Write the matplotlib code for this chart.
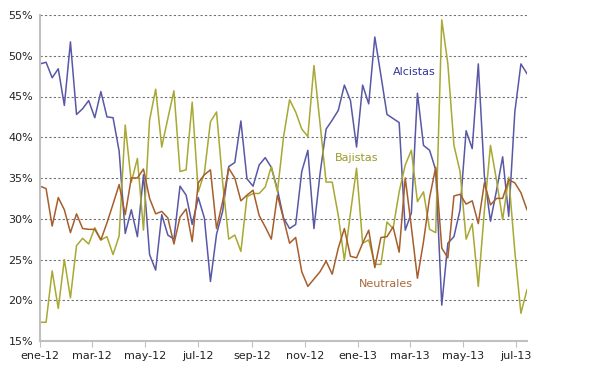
import numpy as np
import matplotlib
matplotlib.use("Agg")
import matplotlib.pyplot as plt

# weekly sentiment readings (%), Jan 2012 - Jul 2013
fechas = np.datetime64("2012-01-05") + np.arange(81) * np.timedelta64(7, "D")

alcistas = [49.0, 49.2, 47.3, 48.4, 43.9, 51.7, 42.8, 43.5, 44.5, 42.4,
            45.6, 42.5, 42.4, 38.3, 28.2, 31.1, 27.8, 35.4, 25.6, 23.7,
            30.5, 28.0, 27.5, 34.0, 32.9, 29.3, 32.6, 30.1, 22.3, 28.1,
            30.9, 36.4, 36.9, 42.0, 34.9, 34.0, 36.6, 37.5, 36.3, 33.6,
            30.1, 28.8, 29.3, 35.8, 38.4, 28.8, 35.5, 41.0, 42.1, 43.3,
            46.4, 44.5, 38.8, 46.4, 44.1, 52.3, 47.6, 42.8, 42.3, 41.8,
            28.6, 30.7, 45.4, 39.0, 38.4, 36.0, 19.4, 27.0, 27.8, 31.1,
            40.8, 38.6, 49.0, 35.2, 29.7, 33.5, 37.6, 30.3, 43.1, 49.0,
            47.8]

bajistas = [17.3, 17.3, 23.6, 19.0, 25.0, 20.3, 26.7, 27.6, 26.9, 28.9,
            27.4, 27.8, 25.6, 27.9, 41.5, 34.5, 37.4, 28.6, 42.1, 45.9,
            38.8, 42.3, 45.7, 35.8, 36.0, 44.3, 33.3, 35.6, 41.9, 43.1,
            34.5, 27.5, 28.0, 26.0, 32.7, 33.1, 33.1, 33.9, 36.4, 33.3,
            40.0, 44.6, 43.1, 41.0, 40.1, 48.8, 41.7, 34.5, 34.5, 30.4,
            24.9, 30.7, 36.2, 27.0, 27.4, 24.4, 24.4, 29.6, 28.8, 33.3,
            36.6, 38.4, 32.1, 33.3, 28.7, 28.3, 54.4, 49.0, 39.0, 35.8,
            27.5, 29.4, 21.7, 31.0, 39.0, 34.7, 29.9, 35.1, 26.0, 18.4,
            21.3]

neutrales = [34.0, 33.7, 29.1, 32.6, 31.1, 28.3, 30.6, 28.8, 28.7, 28.7,
             27.4, 29.5, 31.8, 34.2, 30.5, 35.0, 35.0, 36.1, 32.5, 30.6,
             30.9, 30.1, 26.9, 30.2, 31.2, 27.2, 34.4, 35.4, 36.0, 28.8,
             32.1, 36.2, 35.0, 32.2, 32.9, 33.5, 30.4, 29.0, 27.5, 32.9,
             30.0, 27.0, 27.7, 23.5, 21.7, 22.6, 23.5, 24.8, 23.2, 26.4,
             28.8, 25.4, 25.2, 27.0, 28.6, 24.0, 27.7, 27.8, 29.0, 25.9,
             35.0, 29.0, 22.7, 27.2, 32.6, 36.3, 26.4, 25.2, 32.8, 33.0,
             31.8, 32.2, 29.4, 34.4, 31.7, 32.5, 32.5, 34.8, 34.4, 33.2,
             31.1]

meses = ["ene", "mar", "may", "jul", "sep", "nov"]
ticks = []
etiquetas = []
for anio in (2012, 2013):
    for k, m in enumerate(meses):
        t = np.datetime64(f"{anio}-{2 * k + 1:02d}-05")
        if t <= fechas[-1]:
            ticks.append(t)
            etiquetas.append(f"{m}-{str(anio)[2:]}")

fig = plt.figure(figsize=(6, 3.76), dpi=100)
ax = fig.add_axes([40 / 600, 35 / 376, 487 / 600, 326 / 376])

ax.plot(fechas, alcistas, color="#5858a6", lw=1.1)
ax.plot(fechas, bajistas, color="#a8a832", lw=1.1)
ax.plot(fechas, neutrales, color="#a65e2c", lw=1.1)

ax.set_xlim(fechas[0], fechas[-1])
ax.set_ylim(15, 55)
ax.set_yticks(range(15, 56, 5))
ax.set_yticklabels([f"{v}%" for v in range(15, 56, 5)])
ax.set_xticks(ticks)
ax.set_xticklabels(etiquetas)

for v in range(20, 56, 5):
    ax.axhline(v, color="#707070", lw=0.8, ls=(0, (2, 2)), zorder=0)

for s in ("top", "right"):
    ax.spines[s].set_visible(False)
for s in ("left", "bottom"):
    ax.spines[s].set_color("#c0c0c0")
    ax.spines[s].set_linewidth(1.5)
ax.tick_params(axis="y", length=0, labelsize=8, pad=5, labelcolor="#222222")
ax.tick_params(axis="x", length=4, color="#c0c0c0", labelsize=8, pad=3,
               labelcolor="#222222")

ax.text(np.datetime64("2013-03-10"), 48.0, "Alcistas", color="#34349a",
        fontsize=8, ha="center", va="center")
ax.text(np.datetime64("2013-01-03"), 37.4, "Bajistas", color="#9a9a28",
        fontsize=8, ha="center", va="center")
ax.text(np.datetime64("2013-02-06"), 22.0, "Neutrales", color="#a8683a",
        fontsize=8, ha="center", va="center")

fig.savefig("out.png", dpi=100)
